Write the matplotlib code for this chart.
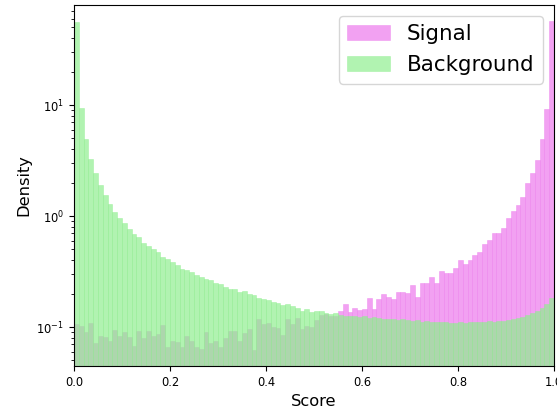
import numpy as np
import matplotlib
matplotlib.use("Agg")
import matplotlib.pyplot as plt

# 100 equal bins on [0, 1], density values
bin_edges = np.linspace(0.0, 1.0, 101)

signal_density = [
    0.106, 0.102, 0.0896, 0.109, 0.0713, 0.083, 0.0818, 0.0748, 0.094, 0.083,
    0.0896, 0.081, 0.0679, 0.0915, 0.0801, 0.0915, 0.0835, 0.0862, 0.105, 0.0665,
    0.0748, 0.0728, 0.0665, 0.083, 0.0748, 0.0665, 0.0634, 0.0896, 0.0713, 0.0748,
    0.0665, 0.079, 0.093, 0.093, 0.075, 0.089, 0.096, 0.0625, 0.117, 0.106,
    0.108, 0.100, 0.099, 0.085, 0.117, 0.106, 0.120, 0.096, 0.102, 0.100,
    0.116, 0.128, 0.131, 0.125, 0.127, 0.139, 0.161, 0.136, 0.147, 0.142,
    0.144, 0.181, 0.144, 0.178, 0.197, 0.188, 0.178, 0.208, 0.208, 0.204,
    0.239, 0.188, 0.251, 0.249, 0.284, 0.249, 0.320, 0.304, 0.308, 0.338,
    0.401, 0.367, 0.401, 0.445, 0.477, 0.556, 0.608, 0.698, 0.698, 0.785,
    0.953, 1.11, 1.26, 1.49, 2.00, 2.46, 3.20, 4.91, 9.27, 57.1,
]

background_density = [
    55.6, 9.33, 4.94, 3.26, 2.43, 1.90, 1.55, 1.28, 1.09, 0.966,
    0.859, 0.769, 0.689, 0.642, 0.575, 0.537, 0.501, 0.471, 0.427, 0.407,
    0.383, 0.360, 0.336, 0.329, 0.315, 0.294, 0.280, 0.269, 0.263, 0.251,
    0.246, 0.231, 0.221, 0.218, 0.207, 0.210, 0.198, 0.196, 0.181, 0.178,
    0.174, 0.168, 0.166, 0.157, 0.160, 0.154, 0.150, 0.140, 0.145, 0.138,
    0.139, 0.139, 0.135, 0.132, 0.133, 0.128, 0.126, 0.127, 0.125, 0.124,
    0.125, 0.121, 0.122, 0.120, 0.119, 0.118, 0.119, 0.116, 0.117, 0.115,
    0.113, 0.115, 0.112, 0.113, 0.111, 0.112, 0.110, 0.111, 0.108, 0.109,
    0.110, 0.109, 0.111, 0.110, 0.112, 0.111, 0.113, 0.112, 0.114, 0.113,
    0.116, 0.118, 0.121, 0.124, 0.128, 0.133, 0.140, 0.150, 0.163, 0.181,
]

series_labels = ["Signal", "Background"]
x_label = "Score"
y_label = "Density"

centers = 0.5 * (bin_edges[:-1] + bin_edges[1:])

fig = plt.figure(figsize=(5.57, 4.09), dpi=100)
ax = fig.add_axes([74 / 557, 43 / 409, 480 / 557, 361 / 409])

ax.hist(centers, bins=bin_edges, weights=signal_density, color="violet",
        edgecolor="violet", linewidth=0.4, alpha=0.75, label=series_labels[0])
ax.hist(centers, bins=bin_edges, weights=background_density, color="lightgreen",
        edgecolor="lightgreen", linewidth=0.4, alpha=0.7, label=series_labels[1])

ax.set_yscale("log")
ax.set_xlim(0.0, 1.0)
ax.set_ylim(0.0446, 79.6)
ax.set_xticks([0.0, 0.2, 0.4, 0.6, 0.8, 1.0])
ax.tick_params(axis="both", which="major", labelsize=8.3)
ax.set_xlabel(x_label, fontsize=11.7)
ax.set_ylabel(y_label, fontsize=11.7)
ax.legend(loc="upper right", fontsize=15.4)

fig.savefig("out.png", dpi=100)
